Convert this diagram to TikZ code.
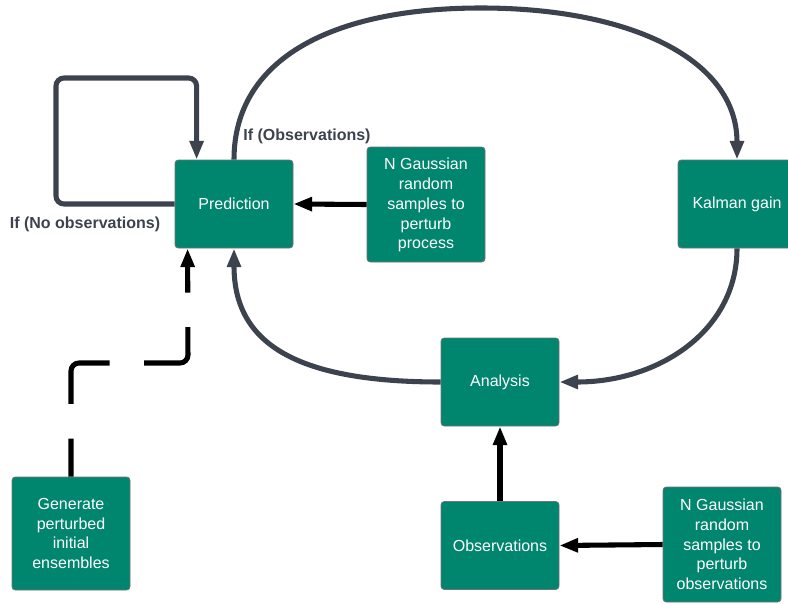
\documentclass[tikz,border=0pt]{standalone}
\usepackage{fontspec}
\setmainfont{Liberation Sans}
\usetikzlibrary{arrows.meta,calc}
\definecolor{boxTeal}{HTML}{00856F}
\definecolor{lineGray}{HTML}{3D434E}

\tikzset{
  stepbox/.style={draw=black!55, line width=0.6pt, fill=boxTeal,
    rounded corners=2.5pt, text=white, align=center, inner sep=0pt,
    minimum width=88.5pt, font=\fontsize{12}{14.8}\selectfont},
  grayflow/.style={draw=lineGray, line width=3.8pt,
    -{Triangle[length=14pt,width=10pt]}},
  blackflow/.style={draw=black, line width=3.8pt,
    -{Triangle[length=14pt,width=10pt]}},
  condlabel/.style={text=lineGray, font=\fontsize{12}{14}\selectfont\bfseries},
}

\begin{document}
\begin{tikzpicture}[x=0.75pt, y=-0.75pt]
    \useasboundingbox (0,0) rectangle (788,603);
    % Boxes
    \node[stepbox, minimum height=66pt] (pred) at (234,204) {Prediction};
    \node[stepbox, minimum height=86.25pt, text depth=1.5pt] (gnp) at (426,204.5)
         {N Gaussian\\random\\samples to\\perturb\\process};
    \node[stepbox, minimum height=66pt] (kal) at (737,204) {Kalman gain};
    \node[stepbox, minimum height=66pt] (ana) at (500,382) {Analysis};
    \node[stepbox, minimum height=66pt] (obs) at (500,545.5) {Observations};
    \node[stepbox, minimum height=86.25pt] (gno) at (722,544.5)
         {N Gaussian\\random\\samples to\\perturb\\observations};
    \node[stepbox, minimum height=84.75pt] (gen) at (71,533.5)
         {Generate\\perturbed\\initial\\ensembles};
    % Condition labels
    \node[condlabel] (noobs) at (85,224) {If (No observations)};
    \node[condlabel] (yesobs) at (307,136) {If (Observations)};
    % Self loop
    \coordinate (loopTop) at (56,78);
    \coordinate (loopIn) at ($(pred.north west)+(22,0)$);
    \draw[grayflow, rounded corners=6pt] (pred.west) -| (loopTop) -| (loopIn);
    % Big cycle
    \coordinate (arcTop) at (481,8);
    \draw[grayflow] (pred.north) .. controls ($(pred.north)+(0,-100)$)
         and ($(arcTop)+(-150,0)$) .. (arcTop)
         .. controls ($(arcTop)+(150,0)$) and ($(kal.north)+(0,-100)$) .. (kal.north);
    \draw[grayflow] (kal.south) .. controls ($(kal.south)+(0,82)$)
         and ($(ana.east)+(100,0)$) .. (ana.east);
    \draw[grayflow] (ana.west) .. controls ($(ana.west)+(-150,0)$)
         and ($(pred.south)+(0,92)$) .. (pred.south);
    % Perturbation inputs
    \draw[blackflow] (gnp.west) -- (pred.east);
    \draw[blackflow] (obs.north) -- (ana.south);
    \draw[blackflow] (gno.west) -- (obs.east);
    % Initial ensembles (dashed)
    \coordinate (dashBend) at (188,363);
    \coordinate (dashIn) at ($(pred.south west)+(13,0)$);
    \draw[blackflow, rounded corners=6pt, dash pattern=on 57pt off 26pt,
          dash phase=28.5pt] (gen.north) |- (dashBend) -- (dashIn);
\end{tikzpicture}
\end{document}
